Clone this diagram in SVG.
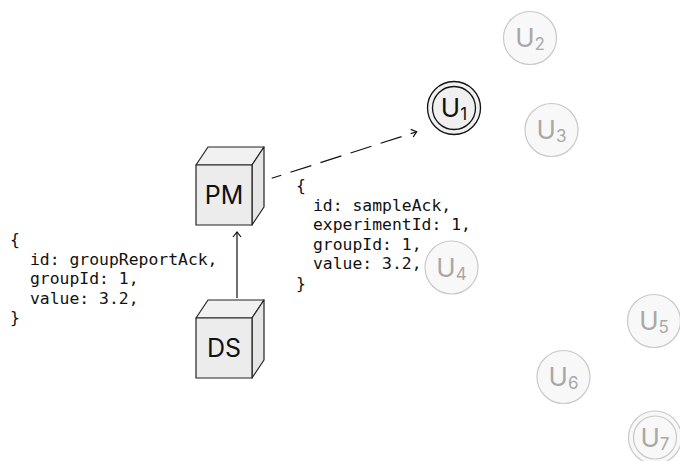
<svg xmlns="http://www.w3.org/2000/svg" width="680" height="461" viewBox="0 0 680 461">
<style>
.face{stroke:#222;stroke-width:1.2;stroke-linejoin:round}
.front{fill:#ececec}.top{fill:#f1f1f1}.side{fill:#e6e6e6}
.lbl{font-family:Inter,"Noto Sans",sans-serif;font-size:25px;fill:#111;text-anchor:middle}
.code{font-family:"DejaVu Sans Mono","Liberation Mono",monospace;font-size:16.4px;fill:#111;white-space:pre}
.u{font-family:Inter,"Noto Sans",sans-serif;font-size:26px;text-anchor:middle}
.on circle{fill:#f0f0f0;stroke:#111;stroke-width:1.3}
.on text{fill:#111}
.off circle{fill:#f8f8f8;stroke:#c9c9c9;stroke-width:1.2}
.off text{fill:#a8a8a8}
.edge{fill:none;stroke:#111;stroke-width:1.2}
</style>
<defs>
<marker id="arr" viewBox="-6 -5 8 10" markerWidth="8" markerHeight="10" refX="0" refY="0" orient="auto" markerUnits="userSpaceOnUse">
<path d="M-5,-4 L0,0 L-5,4" fill="none" stroke="#111" stroke-width="1.2"/>
</marker>
</defs>
<g id="connectors">
<line class="edge" x1="237" y1="298" x2="237" y2="232" marker-end="url(#arr)"/>
<line class="edge" x1="271.7" y1="178.3" x2="416.7" y2="131.7" stroke-dasharray="22 9.6" stroke-dashoffset="12" marker-end="url(#arr)"/>
</g>
<g id="PM">
<polygon class="face top" points="196,165 208,147 264,147 252,165"/>
<polygon class="face side" points="252,165 264,147 264,207 252,225"/>
<rect class="face front" x="196" y="165" width="56" height="60"/>
<text class="lbl" x="224" y="204">PM</text>
</g>
<g id="DS">
<polygon class="face top" points="196,318 208,300 264,300 252,318"/>
<polygon class="face side" points="252,318 264,300 264,360 252,378"/>
<rect class="face front" x="196" y="318" width="56" height="60"/>
<text class="lbl" x="224" y="357">DS</text>
</g>
<g id="msg-groupReportAck">
<text class="code" x="10" y="245">{</text>
<text class="code" x="30" y="264.5">id: groupReportAck,</text>
<text class="code" x="30" y="284">groupId: 1,</text>
<text class="code" x="30" y="303.5">value: 3.2,</text>
<text class="code" x="10" y="323">}</text>
</g>
<g id="msg-sampleAck">
<text class="code" x="296" y="191">{</text>
<text class="code" x="313" y="210.5">id: sampleAck,</text>
<text class="code" x="313" y="230">experimentId: 1,</text>
<text class="code" x="313" y="249.5">groupId: 1,</text>
<text class="code" x="313" y="269">value: 3.2,</text>
<text class="code" x="296" y="288.5">}</text>
</g>
<g id="U1" class="on">
<circle cx="454" cy="108" r="26.5"/>
<circle cx="454" cy="108" r="21.5"/>
<text class="u" x="454" y="117">U<tspan font-size="17" dy="3">1</tspan></text>
</g>
<g id="U2" class="off">
<circle cx="530" cy="38" r="26.5"/>
<text class="u" x="530" y="47">U<tspan font-size="17" dy="3">2</tspan></text>
</g>
<g id="U3" class="off">
<circle cx="551.5" cy="130" r="26.5"/>
<text class="u" x="551.5" y="139">U<tspan font-size="17" dy="3">3</tspan></text>
</g>
<g id="U4" class="off">
<circle cx="451.5" cy="267.5" r="26.5"/>
<text class="u" x="451.5" y="276.5">U<tspan font-size="17" dy="3">4</tspan></text>
</g>
<g id="U5" class="off">
<circle cx="654" cy="321" r="26.5"/>
<text class="u" x="654" y="330">U<tspan font-size="17" dy="3">5</tspan></text>
</g>
<g id="U6" class="off">
<circle cx="563.5" cy="377" r="26.5"/>
<text class="u" x="563.5" y="386">U<tspan font-size="17" dy="3">6</tspan></text>
</g>
<g id="U7" class="off">
<circle cx="655" cy="437.5" r="26.5"/>
<circle cx="655" cy="437.5" r="21.5"/>
<text class="u" x="655" y="446.5">U<tspan font-size="17" dy="3">7</tspan></text>
</g>
</svg>
